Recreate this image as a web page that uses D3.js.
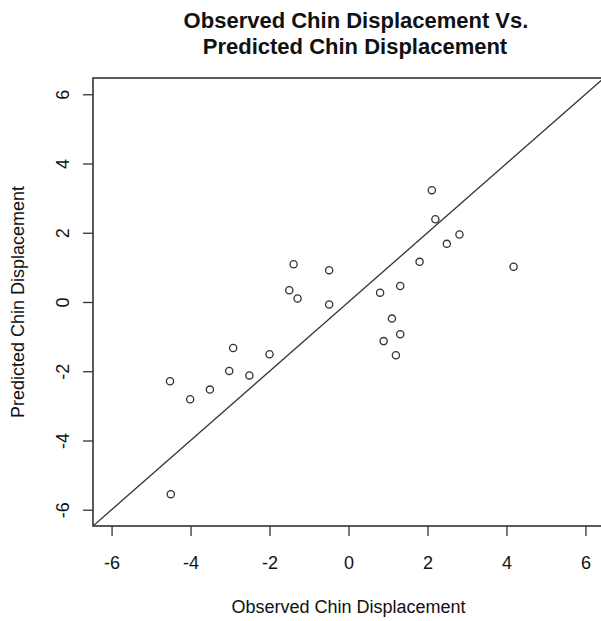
<!DOCTYPE html>
<html>
<head>
<meta charset="utf-8">
<script src="https://cdn.jsdelivr.net/npm/d3@7"></script>
<style>
  body { margin: 0; background: #fff; }
  svg { display: block; font-family: "Liberation Sans", Arial, sans-serif; }
  .tick text { font-size: 18px; fill: #111; }
  .tick line { stroke: #333; stroke-width: 1.3; }
  .domain { display: none; }
</style>
</head>
<body>
<div id="chart"></div>
<script>
// observed vs predicted chin displacement
const observed = [2.11, 2.20, 2.81, 2.49, 1.80, 4.18, 1.31, 0.80, 1.10, 1.31, 0.89, 1.20,
  -1.39, -0.49, -1.50, -1.29, -0.49, -2.92, -2.00, -3.02, -2.51, -3.51, -4.01, -4.52, -4.50];
const predicted = [3.23, 2.39, 1.95, 1.68, 1.16, 1.02, 0.46, 0.27, -0.48, -0.93, -1.13, -1.54,
  1.09, 0.92, 0.34, 0.10, -0.07, -1.33, -1.51, -1.99, -2.12, -2.53, -2.81, -2.29, -5.55];
const ticks = [-6, -4, -2, 0, 2, 4, 6];
const limits = [-6.47, 6.47];

const width = 601;
const height = 621;
const margin = { top: 78, right: -3, bottom: 95, left: 93 };

const svg = d3.select(`#chart`).append(`svg`)
  .attr(`width`, width)
  .attr(`height`, height);

const x = d3.scaleLinear()
  .domain(limits)
  .range([margin.left, width - margin.right]);
const y = d3.scaleLinear()
  .domain(limits)
  .range([height - margin.bottom, margin.top]);

// plot box
svg.append(`rect`)
  .attr(`x`, x(limits[0]))
  .attr(`y`, y(limits[1]))
  .attr(`width`, x(limits[1]) - x(limits[0]))
  .attr(`height`, y(limits[0]) - y(limits[1]))
  .attr(`fill`, `none`)
  .attr(`stroke`, `#333`)
  .attr(`stroke-width`, 1.6);

const fmt = (d) => String(d);

svg.append(`g`)
  .attr(`transform`, `translate(0,${y(limits[0])})`)
  .call(d3.axisBottom(x).tickValues(ticks).tickFormat(fmt).tickSize(10).tickSizeOuter(0).tickPadding(20));

const yAxis = svg.append(`g`)
  .attr(`transform`, `translate(${x(limits[0])},0)`)
  .call(d3.axisLeft(y).tickValues(ticks).tickFormat(fmt).tickSize(10).tickSizeOuter(0));

yAxis.selectAll(`.tick text`)
  .attr(`transform`, `rotate(-90)`)
  .attr(`x`, 0)
  .attr(`y`, -24)
  .attr(`dy`, 0)
  .attr(`text-anchor`, `middle`);

// y = x reference line
svg.append(`clipPath`).attr(`id`, `plot-clip`)
  .append(`rect`)
  .attr(`x`, x(limits[0]))
  .attr(`y`, y(limits[1]))
  .attr(`width`, x(limits[1]) - x(limits[0]))
  .attr(`height`, y(limits[0]) - y(limits[1]));

svg.append(`line`)
  .attr(`clip-path`, `url(#plot-clip)`)
  .attr(`x1`, x(limits[0]))
  .attr(`y1`, y(limits[0]))
  .attr(`x2`, x(limits[1]))
  .attr(`y2`, y(limits[1]))
  .attr(`stroke`, `#333`)
  .attr(`stroke-width`, 1.3);

svg.append(`g`)
  .selectAll(`circle`)
  .data(observed.map((d, i) => ({ obs: d, pred: predicted[i] })))
  .enter().append(`circle`)
    .attr(`cx`, (d) => x(d.obs))
    .attr(`cy`, (d) => y(d.pred))
    .attr(`r`, 3.6)
    .attr(`fill`, `none`)
    .attr(`stroke`, `#333`)
    .attr(`stroke-width`, 1.3);

// titles
const title = svg.append(`text`)
  .attr(`text-anchor`, `middle`)
  .attr(`font-size`, 22)
  .attr(`font-weight`, `bold`)
  .attr(`fill`, `#111`);
title.append(`tspan`).attr(`x`, 356).attr(`y`, 28).text(`Observed Chin Displacement Vs.`);
title.append(`tspan`).attr(`x`, 355).attr(`y`, 54).text(`Predicted Chin Displacement`);

svg.append(`text`)
  .attr(`x`, (x(limits[0]) + x(limits[1])) / 2)
  .attr(`y`, 613)
  .attr(`text-anchor`, `middle`)
  .attr(`font-size`, 18)
  .attr(`fill`, `#111`)
  .text(`Observed Chin Displacement`);

svg.append(`text`)
  .attr(`transform`, `translate(24,${(y(limits[0]) + y(limits[1])) / 2}) rotate(-90)`)
  .attr(`text-anchor`, `middle`)
  .attr(`font-size`, 18)
  .attr(`fill`, `#111`)
  .text(`Predicted Chin Displacement`);
</script>
</body>
</html>
